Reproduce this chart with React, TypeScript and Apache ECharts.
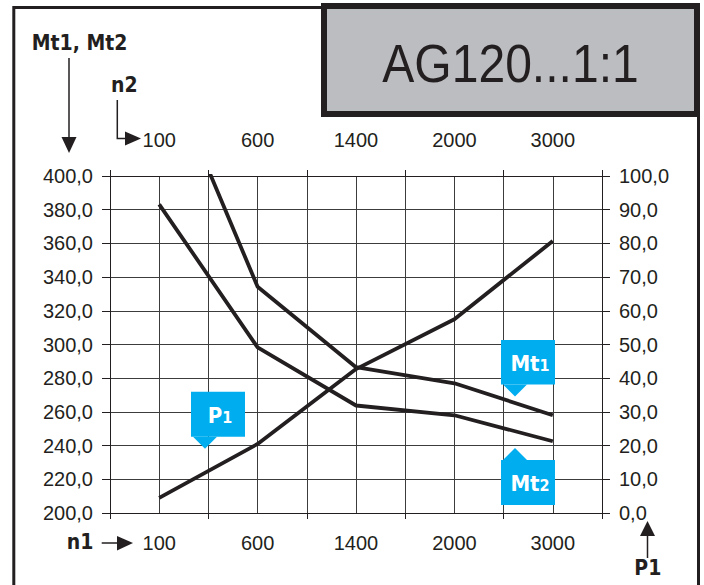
import React, { useEffect, useRef } from "react";
import * as echarts from "echarts";

const n1Labels = ["100", "600", "1400", "2000", "3000"];
const n2Labels = ["100", "600", "1400", "2000", "3000"];
const mt1Values = [473, 334.3, 286.5, 277, 258];
const mt2Values = [383.2, 298.3, 263.8, 258, 242.6];
const p1Values = [4.5, 20.5, 42.7, 57.5, 80.7];

const INK = "#231f20";
const BLUE = "#00aeef";
const GRID = "#3c3c3c";
const AXIS_FONT = "'Liberation Sans', Arial, sans-serif";
const BOLD_FONT = "'DejaVu Sans Condensed', 'DejaVu Sans', sans-serif";

const fmt = (v: number) => v.toFixed(1).replace(".", ",");

function callout(cx: number, top: number, w: number, h: number, tipUp: boolean, main: string, sub: string) {
  const left = cx - w / 2;
  const tipX = cx - 13;
  const tri = tipUp
    ? [[tipX - 12, top], [tipX + 12, top], [tipX, top - 12]]
    : [[tipX - 12, top + h], [tipX + 12, top + h], [tipX, top + h + 12]];
  return [
    { type: "rect", z: 100, shape: { x: left, y: top, width: w, height: h }, style: { fill: BLUE } },
    { type: "polygon", z: 100, shape: { points: tri }, style: { fill: BLUE } },
    {
      type: "text",
      z: 101,
      x: cx + 2,
      y: top + h / 2 + 1,
      style: {
        text: `{a|${main}}{b|${sub}}`,
        align: "center",
        verticalAlign: "middle",
        rich: {
          a: { fontSize: 22, fontWeight: "bold", fontFamily: BOLD_FONT, fill: "#ffffff", verticalAlign: "middle", lineHeight: 24 },
          b: { fontSize: 16, fontWeight: "bold", fontFamily: BOLD_FONT, fill: "#ffffff", verticalAlign: "middle", lineHeight: 24, padding: [4, 0, 0, 0] },
        },
      },
    },
  ];
}

export default function App() {
  const ref = useRef<HTMLDivElement>(null);
  useEffect(() => {
    if (!ref.current) return;
    const chart = echarts.init(ref.current, null, { renderer: "svg" });
    const lineStyle = { color: INK, width: 3.8 };
    const catAxisBase = {
      type: "category",
      boundaryGap: true,
      axisLine: { show: true, lineStyle: { color: INK, width: 1 } },
      axisTick: { show: true, inside: false, length: 6, lineStyle: { color: INK, width: 1 } },
      splitLine: { show: false },
    };
    chart.setOption({
      animation: false,
      backgroundColor: "#ffffff",
      grid: { left: 110, right: 102, top: 176, bottom: 72, containLabel: false, outerBoundsMode: "none" },
      xAxis: [
        {
          ...catAxisBase,
          position: "bottom",
          data: n1Labels,
          axisLabel: { margin: 20, fontSize: 20, color: INK, fontFamily: AXIS_FONT },
        },
        {
          ...catAxisBase,
          position: "top",
          data: n2Labels,
          axisLabel: { margin: 26, fontSize: 20, color: INK, fontFamily: AXIS_FONT },
        },
        {
          type: "value",
          min: 0,
          max: 10,
          interval: 1,
          position: "bottom",
          axisLine: { show: false },
          axisTick: { show: false },
          axisLabel: { show: false },
          splitLine: { show: true, lineStyle: { color: GRID, width: 1 } },
        },
      ],
      yAxis: [
        {
          type: "value",
          min: 200,
          max: 400,
          interval: 20,
          position: "left",
          axisLine: { show: true, lineStyle: { color: INK, width: 1 } },
          axisTick: { show: true, inside: false, length: 8, lineStyle: { color: INK, width: 1 } },
          axisLabel: { margin: 17, fontSize: 20, color: INK, fontFamily: AXIS_FONT, formatter: fmt },
          splitLine: { show: true, lineStyle: { color: GRID, width: 1 } },
        },
        {
          type: "value",
          min: 0,
          max: 100,
          interval: 10,
          position: "right",
          axisLine: { show: true, lineStyle: { color: INK, width: 1 } },
          axisTick: { show: true, inside: false, length: 8, lineStyle: { color: INK, width: 1 } },
          axisLabel: { margin: 17, fontSize: 20, color: INK, fontFamily: AXIS_FONT, formatter: fmt },
          splitLine: { show: false },
        },
      ],
      series: [
        { name: "Mt1", type: "line", xAxisIndex: 0, yAxisIndex: 0, data: mt1Values, symbol: "none", clip: true, lineStyle, z: 5 },
        { name: "Mt2", type: "line", xAxisIndex: 0, yAxisIndex: 0, data: mt2Values, symbol: "none", clip: true, lineStyle, z: 5 },
        { name: "P1", type: "line", xAxisIndex: 0, yAxisIndex: 1, data: p1Values, symbol: "none", clip: true, lineStyle, z: 5 },
      ],
      graphic: [
        // outer frame
        { type: "rect", z: 50, shape: { x: 13.8, y: 7.5, width: 684.7, height: 620 }, style: { fill: "none", stroke: INK, lineWidth: 3 } },
        // title box
        { type: "rect", z: 60, shape: { x: 324, y: 6, width: 373, height: 108 }, style: { fill: "#bcbdc1", stroke: INK, lineWidth: 6 } },
        {
          type: "text",
          z: 61,
          x: 510.5,
          y: 64,
          scaleX: 0.89,
          style: { text: "AG120...1:1", fontSize: 54, fontFamily: AXIS_FONT, fill: INK, align: "center", verticalAlign: "middle" },
        },
        // Mt1, Mt2 label + arrow
        { type: "text", z: 100, x: 31.7, y: 43, style: { text: "Mt1, Mt2", fontSize: 21, fontWeight: "bold", fontFamily: BOLD_FONT, fill: INK, align: "left", verticalAlign: "middle" } },
        { type: "line", z: 100, shape: { x1: 69, y1: 58, x2: 69, y2: 140 }, style: { stroke: INK, lineWidth: 1.5 } },
        { type: "polygon", z: 100, shape: { points: [[61.5, 137], [76.5, 137], [69, 153]] }, style: { fill: INK } },
        // n2 label + L arrow
        { type: "text", z: 100, x: 111, y: 85, style: { text: "n2", fontSize: 21, fontWeight: "bold", fontFamily: BOLD_FONT, fill: INK, align: "left", verticalAlign: "middle" } },
        { type: "polyline", z: 100, shape: { points: [[117.3, 100], [117.3, 138.5], [127, 138.5]] }, style: { stroke: INK, lineWidth: 1.5, fill: "none" } },
        { type: "polygon", z: 100, shape: { points: [[125, 131.5], [125, 145.5], [141, 138.5]] }, style: { fill: INK } },
        // n1 label + arrow
        { type: "text", z: 100, x: 66.7, y: 542, style: { text: "n1", fontSize: 21, fontWeight: "bold", fontFamily: BOLD_FONT, fill: INK, align: "left", verticalAlign: "middle" } },
        { type: "line", z: 100, shape: { x1: 101.7, y1: 543, x2: 119, y2: 543 }, style: { stroke: INK, lineWidth: 1.5 } },
        { type: "polygon", z: 100, shape: { points: [[117, 536], [117, 550.5], [133, 543]] }, style: { fill: INK } },
        // P1 label + arrow
        { type: "text", z: 100, x: 634.3, y: 567.5, style: { text: "P1", fontSize: 21, fontWeight: "bold", fontFamily: BOLD_FONT, fill: INK, align: "left", verticalAlign: "middle" } },
        { type: "line", z: 100, shape: { x1: 647.5, y1: 534, x2: 647.5, y2: 558 }, style: { stroke: INK, lineWidth: 1.5 } },
        { type: "polygon", z: 100, shape: { points: [[640, 536], [655, 536], [647.5, 521]] }, style: { fill: INK } },
        // callouts
        ...callout(218, 391.7, 54, 45, false, "P", "1"),
        ...callout(528, 340, 54, 44.5, false, "Mt", "1"),
        ...callout(528, 460, 54, 45, true, "Mt", "2"),
      ],
    });
    return () => chart.dispose();
  }, []);
  return <div ref={ref} style={{ position: "absolute", left: 0, top: 0, width: 704, height: 585 }} />;
}
